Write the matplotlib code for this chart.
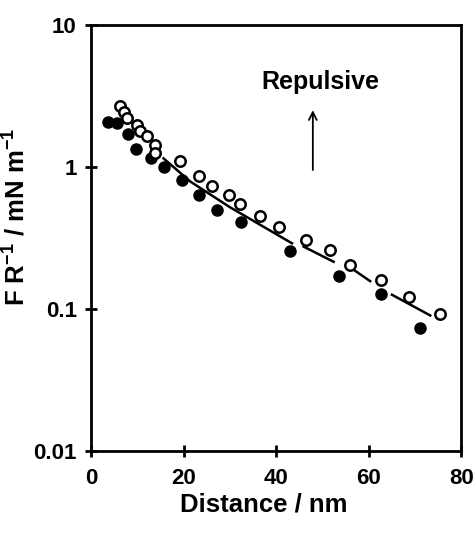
import numpy as np
import matplotlib
matplotlib.use("Agg")
import matplotlib.pyplot as plt

# data
filled_x = [3.7, 5.5, 8.0, 9.7, 12.9, 15.6, 19.6, 23.2, 27.1, 32.3, 42.9, 53.6, 62.7, 71.0]
filled_y = [2.09, 2.03, 1.70, 1.35, 1.16, 1.00, 0.807, 0.632, 0.50, 0.413, 0.257, 0.172, 0.128, 0.074]

open_x = [6.2, 7.1, 7.8, 9.8, 10.5, 12.0, 13.8, 13.8, 19.2, 23.2, 26.1, 29.7, 32.2, 36.5, 40.5,
          46.5, 51.7, 56.0, 62.7, 68.6, 75.3]
open_y = [2.70, 2.43, 2.21, 1.98, 1.80, 1.66, 1.44, 1.26, 1.10, 0.86, 0.73, 0.63, 0.55, 0.45, 0.38,
          0.306, 0.26, 0.204, 0.159, 0.121, 0.092]

# fitted curve, broken into pieces (nan = gap)
fit_x = [15.6, 21.4, 30.0, 43.4, np.nan, 45.9, 52.4, np.nan, 55.8, 60.3, np.nan, 65.0, 73.3]
fit_y = [1.15, 0.79, 0.52, 0.29, np.nan, 0.275, 0.215, np.nan, 0.198, 0.157, np.nan, 0.126, 0.09]

plt.rcParams['mathtext.fontset'] = 'custom'
plt.rcParams['mathtext.bf'] = 'Liberation Sans:bold'
plt.rcParams['mathtext.rm'] = 'Liberation Sans:bold'
plt.rcParams['mathtext.default'] = 'bf'

fig = plt.figure(figsize=(4.76, 5.33), dpi=100)
ax = fig.add_axes([0.192, 0.154, 0.777, 0.799])

ax.plot(fit_x, fit_y, color='black', linewidth=1.8, zorder=1)
ax.plot(filled_x, filled_y, 'o', color='black', markersize=8, zorder=2)
ax.plot(open_x, open_y, 'o', markerfacecolor='white', markeredgecolor='black',
        markeredgewidth=1.8, markersize=7.5, zorder=3)

ax.annotate('', xy=(47.9, 2.63), xytext=(47.9, 0.91),
            arrowprops=dict(arrowstyle='->', color='black', lw=1.3, mutation_scale=14))
ax.text(49.5, 4.0, 'Repulsive', ha='center', va='center', fontsize=18,
        fontweight='bold', family='Liberation Sans')

ax.set_yscale('log')
ax.set_xlim(0, 80)
ax.set_ylim(0.01, 10)
ax.set_xticks([0, 20, 40, 60, 80])
ax.set_yticks([0.01, 0.1, 1, 10])
ax.set_yticklabels(['0.01', '0.1', '1', '10'])
ax.yaxis.set_minor_locator(matplotlib.ticker.NullLocator())

for sp in ax.spines.values():
    sp.set_linewidth(2)
ax.tick_params(direction='inout', length=9, width=2, pad=6, labelsize=16)
for lab in ax.get_xticklabels() + ax.get_yticklabels():
    lab.set_family('Liberation Sans')
    lab.set_fontweight('bold')
ax.tick_params(axis='x', pad=8)

ax.set_xlabel('Distance / nm', fontsize=18.5, fontweight='bold', family='Liberation Sans')
ax.set_ylabel(r'F R$^{-1}$ / mN m$^{-1}$', fontsize=18.5, fontweight='bold',
              family='Liberation Sans')
ax.xaxis.set_label_coords(0.467, -0.097)
ax.yaxis.set_label_coords(-0.165, 0.55)

fig.savefig('out.png', dpi=100)
